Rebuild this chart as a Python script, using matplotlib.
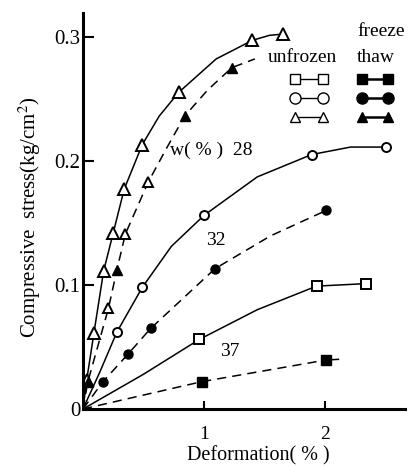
import matplotlib
matplotlib.use("Agg")
import matplotlib.pyplot as plt
from matplotlib.lines import Line2D

plt.rcParams['font.family'] = ['Liberation Serif', 'DejaVu Serif']
plt.rcParams['mathtext.fontset'] = 'stix'

# ---- data (deformation %, compressive stress kg/cm2) ----
# measured points (markers)
unf28_x = [0.03, 0.09, 0.17, 0.25, 0.34, 0.49, 0.79, 1.40, 1.65]
unf28_y = [0.023, 0.061, 0.111, 0.142, 0.177, 0.213, 0.255, 0.297, 0.302]
ft28_fill_x = [0.04, 0.28, 0.84, 1.23]
ft28_fill_y = [0.022, 0.112, 0.236, 0.275]
ft28_open_x = [0.21, 0.35, 0.54]
ft28_open_y = [0.081, 0.141, 0.183]
unf32_x = [0.28, 0.49, 1.00, 1.89, 2.50]
unf32_y = [0.062, 0.098, 0.156, 0.205, 0.211]
ft32_x = [0.165, 0.37, 0.56, 1.09, 2.01]
ft32_y = [0.022, 0.044, 0.065, 0.113, 0.160]
unf37_x = [0.96, 1.93, 2.34]
unf37_y = [0.056, 0.099, 0.101]
ft37_x = [0.98, 2.01]
ft37_y = [0.022, 0.0395]

# fitted curves (no markers)
unf28_cx = [0.0, 0.03, 0.09, 0.17, 0.25, 0.34, 0.49, 0.63, 0.79, 1.10, 1.40, 1.54, 1.65]
unf28_cy = [0.0, 0.023, 0.061, 0.111, 0.142, 0.177, 0.213, 0.236, 0.255, 0.282, 0.297, 0.301, 0.302]
ft28_cx = [0.0, 0.04, 0.21, 0.28, 0.35, 0.54, 0.69, 0.84, 1.03, 1.23, 1.42]
ft28_cy = [0.0, 0.022, 0.081, 0.112, 0.141, 0.183, 0.210, 0.236, 0.257, 0.275, 0.282]
unf32_cx = [0.0, 0.14, 0.28, 0.49, 0.73, 1.00, 1.44, 1.89, 2.21, 2.50]
unf32_cy = [0.0, 0.030, 0.062, 0.098, 0.131, 0.156, 0.187, 0.205, 0.211, 0.211]
ft32_cx = [0.0, 0.165, 0.37, 0.56, 1.09, 1.55, 2.01]
ft32_cy = [0.0, 0.022, 0.044, 0.065, 0.113, 0.1395, 0.160]
unf37_cx = [0.0, 0.50, 0.96, 1.44, 1.93, 2.34]
unf37_cy = [0.0, 0.028, 0.056, 0.080, 0.099, 0.101]
ft37_cx = [0.0, 0.98, 2.01]
ft37_cy = [0.0, 0.022, 0.0395]
ft37_tail_x = [2.01, 2.11]
ft37_tail_y = [0.0395, 0.040]

xticks = [1, 2]
yticks = [0, 0.1, 0.2, 0.3]
ytick_labels = ["0", "0.1", "0.2", "0.3"]

W, H = 408, 467
fig = plt.figure(figsize=(W / 100, H / 100), dpi=100)
ax = fig.add_axes([83 / W, 1 - 409 / H, (405 - 83) / W, (409 - 13) / H])
ax.set_xlim(0, 2.66)
ax.set_ylim(0, 0.319)

k = 'black'
lw = 1.1
dash = (0, (6, 4))

# unfrozen: solid curves, open markers
ax.plot(unf28_cx, unf28_cy, color=k, lw=lw)
ax.plot(unf28_x, unf28_y, ls='none', marker='^', ms=8, mfc='white', mec=k, mew=1.4)
ax.plot(unf32_cx, unf32_cy, color=k, lw=lw)
ax.plot(unf32_x, unf32_y, ls='none', marker='o', ms=6.5, mfc='white', mec=k, mew=1.4)
ax.plot(unf37_cx, unf37_cy, color=k, lw=lw)
ax.plot(unf37_x, unf37_y, ls='none', marker='s', ms=7, mfc='white', mec=k, mew=1.4)

# freeze-thaw: dashed curves, filled markers
ax.plot(ft28_cx, ft28_cy, color=k, lw=lw, ls=dash)
ax.plot(ft28_fill_x, ft28_fill_y, ls='none', marker='^', ms=7.5, mfc=k, mec=k)
ax.plot(ft28_open_x, ft28_open_y, ls='none', marker='^', ms=7.5, mfc='white', mec=k, mew=1.4)
ax.plot(ft32_cx, ft32_cy, color=k, lw=lw, ls=dash)
ax.plot(ft32_x, ft32_y, ls='none', marker='o', ms=6.5, mfc=k, mec=k)
ax.plot(ft37_cx, ft37_cy, color=k, lw=lw, ls=dash)
ax.plot(ft37_tail_x, ft37_tail_y, color=k, lw=lw)
ax.plot(ft37_x, ft37_y, ls='none', marker='s', ms=6.5, mfc=k, mec=k)

for s in ['top', 'right']:
    ax.spines[s].set_visible(False)
for s in ['left', 'bottom']:
    ax.spines[s].set_linewidth(2.2)

ax.set_xticks(xticks)
ax.set_xticklabels([str(t) for t in xticks], fontsize=14)
ax.set_yticks(yticks)
ax.set_yticklabels(ytick_labels, fontsize=15)
ax.tick_params(axis='y', direction='in', length=8, width=1.5, pad=2)
ax.tick_params(axis='x', direction='in', length=6, width=1.5, pad=12)


def fx(px):
    return px / W


def fy(py):
    return 1 - py / H


fig.text(fx(258), fy(456), "Deformation( % )", fontsize=14.5, ha='center', va='center')
fig.text(fx(30), fy(217), "Compressive  stress(kg/cm$^2$)", fontsize=15,
         ha='center', va='center', rotation=90)

# curve labels
ax.text(0.72, 0.208, "w( % )  28", fontsize=14, ha='left', va='center')
ax.text(1.10, 0.136, "32", fontsize=14, ha='center', va='center')
ax.text(1.21, 0.046, "37", fontsize=14, ha='center', va='center')

# manual legend (figure pixel coordinates)
fig.text(fx(381), fy(32), "freeze", fontsize=14, ha='center', va='center')
fig.text(fx(302), fy(57), "unfrozen", fontsize=14, ha='center', va='center')
fig.text(fx(376), fy(57), "thaw", fontsize=14, ha='center', va='center')

rows = [(79, 's', 7), (98, 'o', 8), (117, '^', 7)]
for py, m, ms in rows:
    fig.add_artist(Line2D([fx(295), fx(323)], [fy(py), fy(py)], color=k, lw=1.0,
                          marker=m, ms=ms, mfc='white', mec=k, mew=1.0))
    fig.add_artist(Line2D([fx(362), fx(388)], [fy(py), fy(py)], color=k, lw=1.8,
                          marker=m, ms=ms, mfc=k, mec=k))

fig.savefig("out.png", dpi=100)
